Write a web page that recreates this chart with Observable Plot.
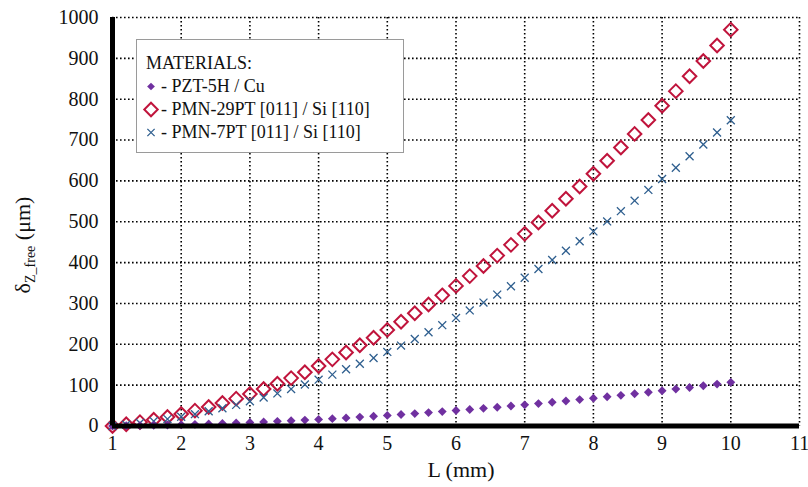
<!DOCTYPE html>
<html><head><meta charset="utf-8">
<script src="https://cdn.jsdelivr.net/npm/d3@7"></script>
<script src="https://cdn.jsdelivr.net/npm/@observablehq/plot@0.6"></script>
<style>
body{margin:0;background:#fff}
#wrap{position:relative;width:808px;height:487px;font-family:"Liberation Serif","Times New Roman",serif;color:#111}
#legend{position:absolute;left:136px;top:39px;width:268px;height:114px;border:1px solid #9a9a9a;background:#fff;box-sizing:border-box;padding-top:12px;font-size:18px}
#legend .row{height:23px;line-height:23px;white-space:nowrap;display:flex;align-items:center}
#legend .ttl{padding-left:9px}
#legend svg{width:20px;height:23px;margin-left:4px;flex:none}
</style></head>
<body><div id="wrap"></div>
<script>
const L = [1.0,1.2,1.4,1.6,1.8,2.0,2.2,2.4,2.6,2.8,3.0,3.2,3.4,3.6,3.8,4.0,4.2,4.4,4.6,4.8,5.0,5.2,5.4,5.6,5.8,6.0,6.2,6.4,6.6,6.8,7.0,7.2,7.4,7.6,7.8,8.0,8.2,8.4,8.6,8.8,9.0,9.2,9.4,9.6,9.8,10.0];
const pzt5h = [0,0.5,1.0,1.7,2.4,3.2,4.1,5.1,6.2,7.4,8.6,10.0,11.4,12.9,14.5,16.2,18.0,19.8,21.8,23.8,25.9,28.1,30.4,32.8,35.3,37.8,40.4,43.2,46.0,48.9,51.8,54.9,58.1,61.3,64.6,68.0,71.5,75.1,78.8,82.6,86.4,90.3,94.3,98.5,102.6,106.9];
const pmn29 = [0,4.3,9.4,15.3,22.0,29.4,37.6,46.6,56.4,67.0,78.4,90.6,103.5,117.2,131.7,147,163.1,179.9,197.6,216.0,235.2,255.2,276.0,297.5,319.9,343,366.9,391.6,417.1,443.4,470.4,498.2,526.8,556.2,586.4,617.4,649.2,681.7,715.0,749.1,784,819.7,856.1,893.4,931.4,970.2];
const pmn7 = [0,3.3,7.3,11.8,16.9,22.7,29.0,36.0,43.5,51.7,60.5,69.9,79.8,90.4,101.6,113.4,125.8,138.8,152.4,166.6,181.4,196.9,212.9,229.5,246.8,264.6,283.0,302.1,321.7,342.0,362.9,384.4,406.4,429.1,452.4,476.3,500.8,525.9,551.6,577.9,604.8,632.3,660.4,689.2,718.5,748.4];
const xTicks = [1,2,3,4,5,6,7,8,9,10,11];
const yTicks = [0,100,200,300,400,500,600,700,800,900,1000];
const seriesNames = ["PZT-5H / Cu","PMN-29PT [011] / Si [110]","PMN-7PT [011] / Si [110]"];
const colors = ["#7030A0","#C0143C","#2F5F8F"];

const d1 = L.map((x,i)=>({x, y:pzt5h[i]}));
const d2 = L.map((x,i)=>({x, y:pmn29[i]}));
const d3s = L.map((x,i)=>({x, y:pmn7[i]}));

const chart = Plot.plot({
  width:808, height:487,
  marginLeft:112, marginRight:9, marginTop:17, marginBottom:61.5,
  style:{fontFamily:'"Liberation Serif","Times New Roman",serif', fontSize:"20px", color:"#111", background:"#fff"},
  x:{domain:[1,11], ticks:xTicks, tickSize:0, tickPadding:12, label:null, tickFormat:d=>String(d)},
  y:{domain:[0,1000], ticks:yTicks, tickSize:0, tickPadding:12, label:null, tickFormat:d=>String(d)},
  marks:[
    Plot.ruleX(xTicks.slice(1), {stroke:"#000", strokeWidth:1.6, strokeDasharray:"1.6,2.4"}),
    Plot.ruleY(yTicks.slice(1), {stroke:"#000", strokeWidth:1.6, strokeDasharray:"1.6,2.4"}),
    Plot.axisX({ticks:xTicks, tickSize:0, tickPadding:10, fontSize:20, fontFamily:"Liberation Serif", tickFormat:d=>String(d)}),
    Plot.axisY({ticks:yTicks, tickSize:0, tickPadding:14, fontSize:20, fontFamily:"Liberation Serif", tickFormat:d=>String(d)}),
    Plot.dot(d2, {x:"x", y:"y", symbol:"diamond2", r:6.1, stroke:colors[1], strokeWidth:2, fill:"none"}),
    Plot.dot(d3s, {x:"x", y:"y", symbol:"times", r:3.7, stroke:colors[2], strokeWidth:1.3}),
    Plot.dot(d1, {x:"x", y:"y", symbol:"diamond2", r:4.0, fill:colors[0], stroke:"none"}),
    Plot.ruleY([0], {stroke:"#000", strokeWidth:5}),
    Plot.ruleX([1], {stroke:"#000", strokeWidth:5})
  ]
});
const wrap = document.getElementById("wrap");
wrap.appendChild(chart);

const svg = d3.select(chart);
// y label
const yl = svg.append("text")
  .attr("transform","translate(30,245) rotate(-90)")
  .attr("text-anchor","middle")
  .attr("font-size",22)
  .attr("font-family","Liberation Serif")
  .attr("fill","#111");
yl.append("tspan").text("δ");
yl.append("tspan").attr("font-size",14).attr("dy",5).text("Z_free");
yl.append("tspan").attr("dy",-5).text(" (μm)");
// x label
svg.append("text").attr("x",461).attr("y",477).attr("text-anchor","middle")
  .attr("font-size",22).attr("font-family","Liberation Serif").attr("fill","#111").text("L (mm)");

// legend
const leg = document.createElement("div");
leg.id = "legend";
const title = document.createElement("div");
title.className = "row ttl"; title.textContent = "MATERIALS:";
leg.appendChild(title);
const legSym = [
  {type:d3.symbolDiamond2, size:38, fill:colors[0], stroke:"none", sw:0},
  {type:d3.symbolDiamond2, size:115, fill:"none", stroke:colors[1], sw:2},
  {type:d3.symbolTimes, size:36, fill:"none", stroke:colors[2], sw:1.3}
];
seriesNames.forEach((name,i)=>{
  const row = document.createElement("div");
  row.className = "row";
  const s = legSym[i];
  const p = d3.symbol(s.type, s.size)();
  row.innerHTML = `<svg viewBox="-10 -11.5 20 23"><path d="${p}" fill="${s.fill}" stroke="${s.stroke}" stroke-width="${s.sw}"/></svg><span>- ${name}</span>`;
  leg.appendChild(row);
});
wrap.appendChild(leg);
</script></body></html>
